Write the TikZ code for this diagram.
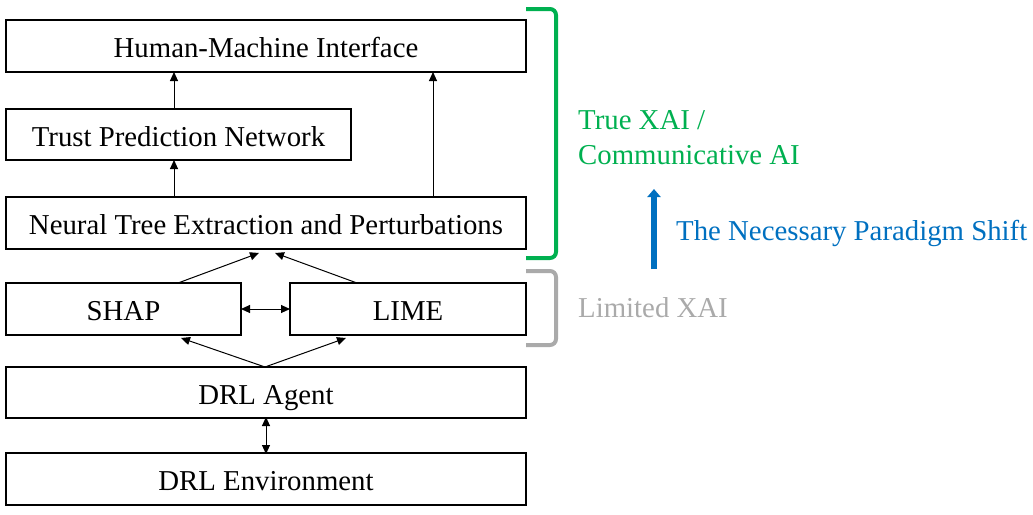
\documentclass[tikz,border=0pt]{standalone}
\usepackage{fontspec}
\setmainfont{Liberation Serif}
\usetikzlibrary{arrows.meta}
\definecolor{xgreen}{RGB}{0,176,80}
\definecolor{xblue}{RGB}{0,112,192}
\definecolor{xgray}{RGB}{170,170,170}
\begin{document}
\begin{tikzpicture}[x=1pt,y=-1pt,
  box/.style={draw,line width=2pt,minimum height=52pt,inner sep=0pt,outer sep=0pt,
    text height=23pt,text depth=0pt,
    font=\fontsize{28.8}{34}\selectfont},
  arr/.style={line width=1pt,-{Triangle[length=9pt,width=8pt]}},
  darr/.style={line width=1pt,{Triangle[length=9pt,width=8pt]}-{Triangle[length=9pt,width=8pt]}},
  lbl/.style={anchor=west,inner sep=0pt,font=\fontsize{28.8}{34}\selectfont}]
\useasboundingbox (0,0) rectangle (1033,514);
\node[box,minimum width=520pt] (hmi) at (266,46) {Human-Machine Interface};
\node[box,minimum width=345pt,minimum height=51pt] (trust) at (178.5,134.5) {Trust Prediction Network};
\node[box,minimum width=520pt] (ntree) at (266,223) {Neural Tree Extraction and Perturbations};
\node[box,minimum width=235pt] (shap) at (123.5,309) {SHAP};
\node[box,minimum width=236pt] (lime) at (408,309) {LIME};
\node[box,minimum width=520pt,minimum height=51pt] (agent) at (266,392.5) {DRL Agent};
\node[box,minimum width=520pt] (env) at (266,479) {DRL Environment};
% vertical arrows
\coordinate (c1) at (174,0);
\coordinate (c2) at (433,0);
\draw[arr] (trust.north -| c1) -- (hmi.south -| c1);
\draw[arr] (ntree.north -| c1) -- (trust.south -| c1);
\draw[arr] (ntree.north -| c2) -- (hmi.south -| c2);
% SHAP/LIME to tree
\coordinate (s1) at (178,283);
\coordinate (t1) at (259,253);
\coordinate (l1) at (357,283);
\coordinate (t2) at (275,253);
\draw[arr] (s1) -- (t1);
\draw[arr] (l1) -- (t2);
\draw[darr] (shap.east) -- (lime.west);
% agent to SHAP/LIME
\coordinate (a1) at (265,367);
\coordinate (s2) at (181,338);
\coordinate (l2) at (346,338);
\draw[arr] (a1) -- (s2);
\draw[arr] (a1) -- (l2);
\coordinate (c3) at (266,0);
\draw[darr] ([yshift=1pt]agent.south -| c3) -- ([yshift=-1pt]env.north -| c3);
% brackets
\draw[xgreen,line width=4pt,rounded corners=6pt] (526,9) -- (556,9) -- (556,258) -- (526,258);
\draw[xgray,line width=4pt,rounded corners=6pt] (526,271) -- (556,271) -- (556,345) -- (526,345);
% texts
\node[lbl,text=xgreen] (true1) at (578,120) {True XAI /};
\node[lbl,text=xgreen] (true2) at (578,155) {Communicative AI};
\node[lbl,text=xgray] (lim) at (578,308) {Limited XAI};
\node[lbl,text=xblue] (shift) at (676,233) {The Necessary Paradigm Shift};
\coordinate (b1) at (654,269);
\coordinate (b2) at (654,189);
\draw[xblue,line width=6pt,-{Triangle[length=8pt,width=13pt]}] (b1) -- (b2);
\end{tikzpicture}
\end{document}
